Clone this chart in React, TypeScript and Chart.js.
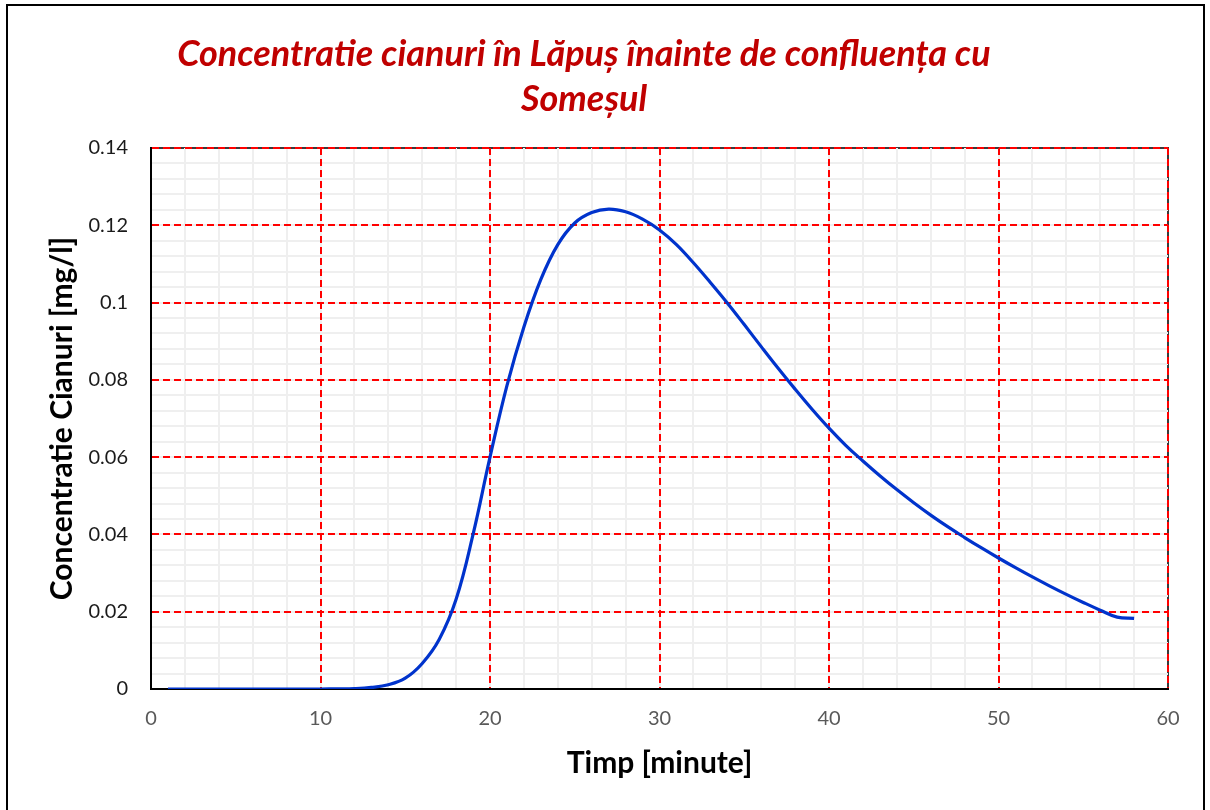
import React, { useEffect, useRef } from "react";
import { Chart, registerables } from "chart.js";

Chart.register(...registerables);

const titleLines = ["Concentratie cianuri în Lăpuș înainte de confluența cu", "Someșul"];
const xAxisTitle = "Timp [minute]";
const yAxisTitle = "Concentratie Cianuri [mg/l]";

const timeMinutes = [
  1, 2, 3, 4, 5, 6, 7, 8, 9, 10,
  11, 12, 13, 14, 15, 16, 17, 18, 19, 20,
  21, 22, 23, 24, 25, 26, 27, 28, 29, 30,
  31, 32, 33, 34, 35, 36, 37, 38, 39, 40,
  41, 42, 43, 44, 45, 46, 47, 48, 49, 50,
  51, 52, 53, 54, 55, 56, 57, 58,
];
const cyanide = [
  0, 0, 0, 0, 0, 0, 0, 0, 0, 0,
  0.00003, 0.0001, 0.0004, 0.0011, 0.0028, 0.0066, 0.0128, 0.0232, 0.04, 0.06,
  0.0785, 0.0937, 0.106, 0.115, 0.1206, 0.1233, 0.1242, 0.1235, 0.1216, 0.1188,
  0.115, 0.1103, 0.1052, 0.0999, 0.0943, 0.0886, 0.083, 0.0776, 0.0724, 0.0675,
  0.063, 0.059, 0.0552, 0.0516, 0.0482, 0.045, 0.042, 0.0392, 0.0365, 0.0339,
  0.0314, 0.029, 0.0267, 0.0245, 0.0224, 0.0204, 0.0186, 0.0183,
];

const xMin = 0, xMax = 60, xMajor = 10, xMinor = 2;
const yMin = 0, yMax = 0.14, yMajor = 0.02, yMinor = 0.004;

const FONT = "Lato";

export default function App() {
  const ref = useRef<HTMLCanvasElement | null>(null);
  useEffect(() => {
    if (!ref.current) return;
    const framePlugin = {
      id: "frame",
      beforeDraw(chart: any) {
        const { ctx, chartArea: a } = chart;
        ctx.save();
        ctx.strokeStyle = "#3a3a3a";
        ctx.lineWidth = 2;
        ctx.beginPath();
        ctx.moveTo(a.left, a.top);
        ctx.lineTo(a.right, a.top);
        ctx.lineTo(a.right, a.bottom);
        ctx.stroke();
        ctx.restore();
      },
      afterDraw(chart: any) {
        const { ctx } = chart;
        ctx.save();
        ctx.strokeStyle = "#000";
        ctx.lineWidth = 2;
        ctx.strokeRect(7, 5, 1197, 900);
        ctx.restore();
      },
    };
    const isEdge = (v: number, lo: number, hi: number) => Math.abs(v - lo) < 1e-9 || Math.abs(v - hi) < 1e-9;
    const chart = new Chart(ref.current, {
      type: "line",
      data: {
        datasets: [
          {
            data: timeMinutes.map((t, i) => ({ x: t, y: cyanide[i] })),
            borderColor: "#0033CC",
            borderWidth: 3.2,
            pointRadius: 0,
            tension: 0.4,
            fill: false,
          },
        ],
      },
      options: {
        responsive: false,
        animation: false,
        layout: { padding: { left: 0, right: 42, top: 0, bottom: 0 } },
        plugins: {
          legend: { display: false },
          tooltip: { enabled: false },
          title: {
            display: true,
            text: titleLines,
            color: "#C00000",
            font: { family: FONT, size: 36, weight: "bold", style: "italic", lineHeight: 1.25 },
            padding: { top: 32, bottom: 26 },
          },
        },
        scales: {
          xMinorAxis: {
            type: "linear",
            position: "bottom",
            min: xMin,
            max: xMax,
            ticks: { display: false, stepSize: xMinor, autoSkip: false },
            grid: {
              color: (c: any) => (isEdge(c.tick?.value, xMin, xMax) ? "rgba(0,0,0,0)" : "#EFEFEF"),
              lineWidth: 2,
              drawTicks: false,
              z: -2,
            },
            border: { display: false },
            afterFit: (s: any) => { s.height = 0; },
          },
          yMinorAxis: {
            type: "linear",
            position: "left",
            min: yMin,
            max: yMax,
            ticks: { display: false, stepSize: yMinor, autoSkip: false },
            grid: {
              color: (c: any) => (isEdge(c.tick?.value, yMin, yMax) ? "rgba(0,0,0,0)" : "#EFEFEF"),
              lineWidth: 2,
              drawTicks: false,
              z: -2,
            },
            border: { display: false },
            afterFit: (s: any) => { s.width = 0; },
          },
          x: {
            type: "linear",
            position: "bottom",
            min: xMin,
            max: xMax,
            ticks: {
              stepSize: xMajor,
              autoSkip: false,
              maxRotation: 0,
              color: "#595959",
              padding: 18,
              font: { family: FONT, size: 20 },
            },
            grid: {
              color: (c: any) => (Math.abs(c.tick?.value - xMin) < 1e-9 ? "rgba(0,0,0,0)" : "#FF0000"),
              lineWidth: 2,
              drawTicks: false,
              z: -1,
            },
            border: { display: true, color: "#000", width: 2, dash: [7, 4] },
            title: {
              display: true,
              text: xAxisTitle,
              color: "#000",
              font: { family: FONT, size: 30, weight: "bold" },
              padding: { top: 0, bottom: 29 },
            },
            afterFit: (s: any) => { s.height = 121; },
          },
          y: {
            type: "linear",
            position: "left",
            min: yMin,
            max: yMax,
            ticks: {
              stepSize: yMajor,
              autoSkip: false,
              color: "#1a1a1a",
              padding: 23,
              font: { family: FONT, size: 20 },
              callback: (v: any) => String(Math.round(Number(v) * 100) / 100),
            },
            grid: {
              color: (c: any) => (Math.abs(c.tick?.value - yMin) < 1e-9 ? "rgba(0,0,0,0)" : "#FF0000"),
              lineWidth: 2,
              drawTicks: false,
              z: -1,
            },
            border: { display: true, color: "#000", width: 2, dash: [7, 4] },
            title: {
              display: true,
              text: yAxisTitle,
              color: "#000",
              font: { family: FONT, size: 30, weight: "bold" },
              padding: { top: 44, bottom: 0 },
            },
            afterFit: (s: any) => { s.width = 151; },
          },
        },
      },
      plugins: [framePlugin],
    } as any);
    return () => chart.destroy();
  }, []);
  return (
    <div style={{ position: "absolute", left: 0, top: 0, width: 1210, height: 810, background: "#fff" }}>
      <canvas ref={ref} width={1210} height={810} style={{ width: 1210, height: 810 }} />
    </div>
  );
}
